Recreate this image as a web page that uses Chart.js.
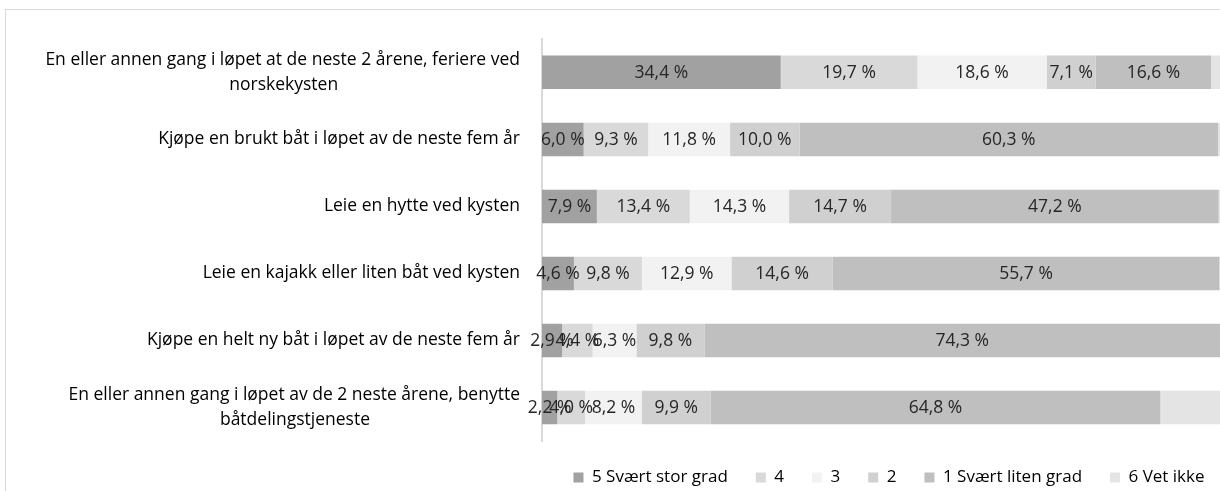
<!DOCTYPE html>
<html>
<head>
<meta charset="utf-8">
<script src="https://cdn.jsdelivr.net/npm/chart.js@4.4.0/dist/chart.umd.min.js"></script>
<style>
  html, body { margin: 0; padding: 0; background: #fff; overflow: hidden; }
  #frame { position: absolute; left: 5px; top: 9px; width: 1300px; height: 600px;
           border-left: 1px solid #d9d9d9; border-top: 1px solid #d9d9d9; }
  #wrap { position: absolute; left: 0; top: 0; width: 1240px; height: 496px; }
</style>
</head>
<body>
<div id="frame"></div>
<div id="wrap"><canvas id="survey"></canvas></div>
<script>
// categories (top to bottom)
const categories = [
    ['En eller annen gang i løpet at de neste 2 årene, feriere ved', 'norskekysten'],
    'Kjøpe en brukt båt i løpet av de neste fem år',
    'Leie en hytte ved kysten',
    'Leie en kajakk eller liten båt ved kysten',
    'Kjøpe en helt ny båt i løpet av de neste fem år',
    ['En eller annen gang i løpet av de 2 neste årene, benytte', 'båtdelingstjeneste']
];

const seriesNames = ['5 Svært stor grad', '4', '3', '2', '1 Svært liten grad', '6 Vet ikke'];

// percent values per answer
const grad5 = [34.4, 6.0, 7.9, 4.6, 2.9, 2.2];
const grad4 = [19.7, 9.3, 13.4, 9.8, 4.4, 4.0];
const grad3 = [18.6, 11.8, 14.3, 12.9, 6.3, 8.2];
const grad2 = [7.1, 10.0, 14.7, 14.6, 9.8, 9.9];
const grad1 = [16.6, 60.3, 47.2, 55.7, 74.3, 64.8];
const vetIkke = [3.6, 2.6, 2.5, 2.4, 2.3, 10.9];

const colors = ['#a1a1a1', '#d9d9d9', '#f2f2f2', '#d0d0d0', '#bfbfbf', '#e4e4e4'];
const FONT = '"Open Sans", Lato, sans-serif';

// pad the short line of a two line label so it sits centred under the long one
const centerLines = (label, size) => {
    if (!Array.isArray(label)) return label;
    let ctx = document.createElement('canvas').getContext('2d');
    ctx.font = size + 'px ' + FONT;
    let widths = label.map(l => ctx.measureText(l).width);
    let maxW = Math.max(...widths);
    let space = ctx.measureText(' ').width;
    return label.map((l, i) => {
        let n = Math.round((maxW - widths[i]) / 2 / space);
        return l + ' '.repeat(n);
    });
}

const pctLabels = {
    id: 'pctLabels',
    afterDatasetsDraw(chart) {
        let ctx = chart.ctx;
        ctx.save();
        ctx.font = '17.5px ' + FONT;
        ctx.fillStyle = '#262626';
        ctx.textAlign = 'center';
        ctx.textBaseline = 'middle';
        chart.data.datasets.forEach((ds, i) => {
            if (i === 5) return; // Vet ikke has no labels
            chart.getDatasetMeta(i).data.forEach((bar, j) => {
                let v = ds.data[j];
                let txt = v.toFixed(1).replace('.', ',') + ' %';
                ctx.fillText(txt, (bar.x + bar.base) / 2, bar.y + 1);
            });
        });
        ctx.restore();
    }
};

const buildChart = () => {
    let values = [grad5, grad4, grad3, grad2, grad1, vetIkke];
    let datasets = seriesNames.map((name, i) => ({
        label: name,
        data: values[i],
        backgroundColor: colors[i],
        borderWidth: 0,
        categoryPercentage: 1,
        barPercentage: 0.5
    }));

    new Chart(document.getElementById('survey'), {
        type: 'bar',
        data: {
            labels: categories.map(c => centerLines(c, 17.5)),
            datasets: datasets
        },
        plugins: [pctLabels],
        options: {
            indexAxis: 'y',
            responsive: true,
            maintainAspectRatio: false,
            animation: false,
            layout: { padding: { top: 38, right: 4, left: 0, bottom: 0 } },
            scales: {
                x: {
                    stacked: true,
                    min: 0,
                    max: 100,
                    display: false
                },
                y: {
                    stacked: true,
                    grid: { display: false },
                    border: { display: true, color: '#d9d9d9', width: 2 },
                    ticks: {
                        color: '#000',
                        padding: 14,
                        font: { family: FONT, size: 17.5, lineHeight: 1.42 }
                    },
                    afterFit: (scale) => { scale.width = 542; }
                }
            },
            plugins: {
                legend: {
                    position: 'bottom',
                    align: 'center',
                    fullSize: false,
                    labels: {
                        boxWidth: 10,
                        boxHeight: 10,
                        padding: 28,
                        color: '#000',
                        font: { family: FONT, size: 17 }
                    }
                },
                tooltip: { enabled: false }
            }
        }
    });
}

document.addEventListener('DOMContentLoaded', buildChart);
</script>
</body>
</html>
